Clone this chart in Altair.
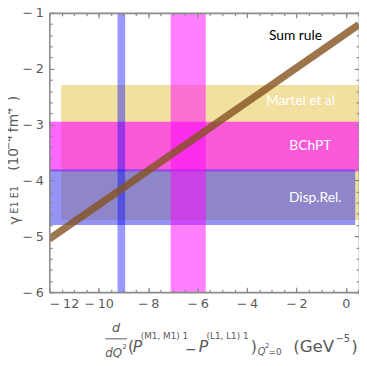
import altair as alt
import numpy as np
import pandas as pd

# ---------------- data ----------------
band_names = ["Martel et al", "BChPT", "Disp.Rel."]
band_x_lo = [-11.52, -12.0, -12.0]
band_x_hi = [0.53, 0.53, 0.38]
band_y_lo = [-4.71, -3.84, -4.80]
band_y_hi = [-2.29, -2.95, -3.80]

vband_names = ["blue", "magenta"]
vband_x_lo = [-9.24, -7.09]
vband_x_hi = [-8.93, -5.67]
vband_y_lo = [-6.0, -6.0]
vband_y_hi = [-1.0, -1.0]

sumrule_x = [-12.0, 0.53]
sumrule_y = [-5.05, -1.21]

label_text = ["Sum rule", "Martel et al", "BChPT", "Disp.Rel."]
label_x = [-2.04, -1.84, -1.44, -1.24]
label_y = [-1.41, -2.58, -3.39, -4.31]

x_ticks = [-12, -10, -8, -6, -4, -2, 0]
y_ticks = [-6, -5, -4, -3, -2, -1]
x_minor = [round(v, 2) for v in np.arange(-12, 0.51, 0.5)]
y_minor = [round(v, 2) for v in np.arange(-6, -0.99, 0.2)]

X_DOMAIN = [-12, 0.53]
Y_DOMAIN = [-6, -1]

# ---------------- style ----------------
W, H = 315, 284
FRAME = "#8a8a8a"
GRAY = "#5a5a5a"
TFONT = "DejaVu Sans"

xs = alt.Scale(domain=X_DOMAIN, nice=False, zero=False)
ys = alt.Scale(domain=Y_DOMAIN, nice=False, zero=False)

neg_label = "datum.value < 0 ? '\u2212\u2009' + abs(datum.value) : '' + datum.value"


def axis(orient, values, offset=0, labels=False, size=5, domain=False):
    kw = dict(orient=orient, values=values, grid=False, title=None, zindex=1,
              domain=domain, domainColor=FRAME, domainWidth=1.6)
    if offset:
        kw["offset"] = offset
    if labels:
        kw.update(labels=True, ticks=False, tickSize=0, labelColor=GRAY,
                  labelFont=TFONT, labelFontSize=13, labelPadding=6,
                  labelExpr=neg_label)
    else:
        kw.update(labels=False, ticks=True, tickSize=size, tickColor=FRAME,
                  tickWidth=1.2)
    return alt.Axis(**kw)


def band_df(i):
    return pd.DataFrame({"x1": [band_x_lo[i]], "x2": [band_x_hi[i]],
                         "y1": [band_y_lo[i]], "y2": [band_y_hi[i]],
                         "name": [band_names[i]]})


def vband_df(i):
    return pd.DataFrame({"x1": [vband_x_lo[i]], "x2": [vband_x_hi[i]],
                         "y1": [vband_y_lo[i]], "y2": [vband_y_hi[i]],
                         "name": [vband_names[i]]})


def rect(df, color, opacity, xaxis, yaxis):
    return alt.Chart(df).mark_rect(color=color, opacity=opacity, strokeWidth=0).encode(
        x=alt.X("x1:Q", scale=xs, axis=xaxis), x2="x2:Q",
        y=alt.Y("y1:Q", scale=ys, axis=yaxis), y2="y2:Q")


martel = rect(band_df(0), "#e5c141", 0.5,
              axis("bottom", x_ticks, labels=True, domain=True),
              axis("left", y_ticks, labels=True, domain=True))
bchpt = rect(band_df(1), "#ff00ff", 0.6,
             axis("top", x_ticks, offset=-H, size=5),
             axis("right", y_ticks, offset=-W, size=5))
disp = rect(band_df(2), "#3c3ceb", 0.55,
            axis("bottom", x_ticks, offset=-H, size=5, domain=True),
            axis("left", y_ticks, offset=-W, size=5, domain=True))
vblue = rect(vband_df(0), "#0000ff", 0.4,
             axis("top", x_minor, offset=-H, size=3),
             axis("right", y_minor, offset=-W, size=3))
vmag = rect(vband_df(1), "#ff00ff", 0.5,
            axis("bottom", x_minor, offset=-H, size=3),
            axis("left", y_minor, offset=-W, size=3))

line = alt.Chart(pd.DataFrame({"x": sumrule_x, "y": sumrule_y})).mark_line(
    color="#84521f", opacity=0.8, strokeWidth=7.5, strokeCap="butt", clip=True
).encode(x=alt.X("x:Q", scale=xs, axis=None), y=alt.Y("y:Q", scale=ys, axis=None))

lab_df = pd.DataFrame({"t": label_text, "x": label_x, "y": label_y,
                       "c": ["black", "white", "white", "white"]})
labels = alt.Chart(lab_df).mark_text(font="Lato", fontSize=14, align="center",
                                     baseline="middle").encode(
    x=alt.X("x:Q", scale=xs, axis=None), y=alt.Y("y:Q", scale=ys, axis=None),
    text="t:N", color=alt.Color("c:N", scale=None))


def txt(s, px, py, size, italic=False, align="left", angle=0, baseline="alphabetic"):
    kw = dict(align=align, baseline=baseline, fontSize=size, font=TFONT,
              fontStyle="italic" if italic else "normal", color=GRAY)
    if angle:
        kw["angle"] = angle
    return alt.Chart(pd.DataFrame({"t": [s]})).mark_text(**kw).encode(
        x=alt.value(px), y=alt.value(py), text="t:N")


frac_line = alt.Chart(pd.DataFrame({"t": [0]})).mark_rule(color=GRAY, strokeWidth=1).encode(
    x=alt.value(57), x2=alt.value(79), y=alt.value(331.5))

title_parts = [
    # x title
    txt("d", 68, 325, 13, italic=True, align="center"),
    txt("dQ", 57, 350, 12, italic=True),
    txt("2", 74.5, 342, 7),
    txt("(", 80, 345, 16),
    txt("P", 85, 345, 16, italic=True),
    txt("(M1, M1) 1", 93, 332, 9),
    txt("\u2212", 138, 347, 14),
    txt("P", 152, 345, 16, italic=True),
    txt("(L1, L1) 1", 160, 332, 9),
    txt(")", 205, 345, 16),
    txt("Q", 212, 348, 10, italic=True),
    txt("2", 219.5, 341, 7),
    txt("=0", 223, 348, 9),
    txt("(GeV", 248, 345, 17),
    txt("\u22125", 291, 335, 10),
    txt(")", 307, 345, 17),
    # y title (rotated)
    txt("\u03b3", -36, 211, 15, align="center", angle=270, baseline="middle"),
    txt("E1 E1", -34.5, 190, 10, align="center", angle=270, baseline="middle"),
    txt("(10", -36, 149, 14, align="center", angle=270, baseline="middle"),
    txt("\u22124", -41, 132, 10, align="center", angle=270, baseline="middle"),
    txt("fm", -36, 112, 14, align="center", angle=270, baseline="middle"),
    txt("4", -41, 100, 10, align="center", angle=270, baseline="middle"),
    txt(")", -36, 87, 14, align="center", angle=270, baseline="middle"),
]

chart = alt.layer(
    martel, bchpt, disp, vblue, vmag, line, labels, frac_line, *title_parts
).resolve_axis(x="independent", y="independent").properties(
    width=W, height=H,
    autosize=alt.AutoSizeParams(type="none"),
    padding={"left": 42, "top": 2, "right": 0, "bottom": 64},
).configure_view(stroke=None)

chart.save("out.html", embed_options={"renderer": "svg", "actions": False})
